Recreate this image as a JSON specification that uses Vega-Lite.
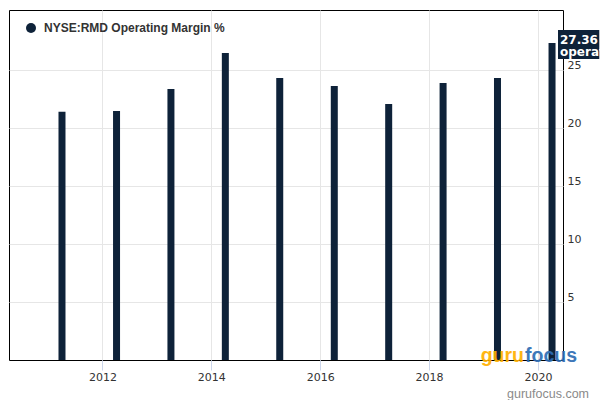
{
  "$schema": "https://vega.github.io/schema/vega-lite/v6.json",
  "width": 554,
  "height": 350,
  "autosize": "none",
  "padding": {"left": 9, "top": 10, "right": 37, "bottom": 40},
  "background": "white",
  "config": {
    "view": {"stroke": "#000000", "strokeWidth": 1},
    "font": "DejaVu Sans"
  },
  "title": {
    "text": "gurufocus.com",
    "orient": "bottom",
    "anchor": "end",
    "frame": "group",
    "color": "#8a8a8a",
    "fontSize": 12.5,
    "fontWeight": "normal",
    "font": "Liberation Sans",
    "baseline": "alphabetic",
    "offset": 16,
    "dx": 26
  },
  "datasets": {
    "bars": [
      {"date": "2011-04-05", "margin": 21.41, "series": "NYSE:RMD Operating Margin %"},
      {"date": "2012-04-05", "margin": 21.49, "series": "NYSE:RMD Operating Margin %"},
      {"date": "2013-04-05", "margin": 23.39, "series": "NYSE:RMD Operating Margin %"},
      {"date": "2014-04-05", "margin": 26.49, "series": "NYSE:RMD Operating Margin %"},
      {"date": "2015-04-05", "margin": 24.34, "series": "NYSE:RMD Operating Margin %"},
      {"date": "2016-04-05", "margin": 23.65, "series": "NYSE:RMD Operating Margin %"},
      {"date": "2017-04-05", "margin": 22.09, "series": "NYSE:RMD Operating Margin %"},
      {"date": "2018-04-05", "margin": 23.91, "series": "NYSE:RMD Operating Margin %"},
      {"date": "2019-04-05", "margin": 24.34, "series": "NYSE:RMD Operating Margin %"},
      {"date": "2020-04-05", "margin": 27.36, "series": "NYSE:RMD Operating Margin %"}
    ],
    "flag": [
      {"start": "2020-05-15", "end": "2021-02-16", "top": 28.47, "bottom": 25.97, "value": 27.36, "label": "27.36\noperating margin"}
    ],
    "logo": [
      {"date": "2019-09-30", "pos": -0.2, "guru": "guru", "focus": "focus"}
    ]
  },
  "layer": [
    {
      "data": {"name": "bars"},
      "mark": {"type": "bar", "width": 7},
      "encoding": {
        "x": {
          "field": "date",
          "type": "temporal",
          "scale": {"type": "utc", "domain": [{"year": 2010, "month": 5, "date": 18, "utc": true}, {"year": 2020, "month": 5, "date": 15, "utc": true}]},
          "axis": {
            "title": null,
            "orient": "bottom",
            "values": [{"year": 2012, "utc": true}, {"year": 2014, "utc": true}, {"year": 2016, "utc": true}, {"year": 2018, "utc": true}, {"year": 2020, "utc": true}],
            "format": "%Y",
            "formatType": "utc",
            "domain": false,
            "ticks": true,
            "tickColor": "#ccd6eb",
            "tickSize": 10,
            "grid": true,
            "gridColor": "#e6e6e6",
            "labelFontSize": 11,
            "labelColor": "#333333",
            "labelPadding": 1,
            "labelFont": "DejaVu Sans"
          }
        },
        "y": {
          "field": "margin",
          "type": "quantitative",
          "scale": {"domain": [0, 30.2], "nice": false, "zero": false},
          "axis": {
            "title": null,
            "orient": "right",
            "values": [5, 10, 15, 20, 25],
            "domain": false,
            "ticks": false,
            "grid": true,
            "gridColor": "#e6e6e6",
            "labelAlign": "left",
            "labelBaseline": "alphabetic",
            "labelOffset": -2,
            "labelPadding": 4,
            "labelFontSize": 11,
            "labelColor": "#333333",
            "labelFont": "DejaVu Sans"
          }
        },
        "color": {
          "field": "series",
          "type": "nominal",
          "scale": {"range": ["#0e2239"]},
          "legend": {
            "title": null,
            "orient": "none",
            "legendX": 16,
            "legendY": 12,
            "padding": 0,
            "symbolType": "circle",
            "symbolSize": 100,
            "symbolStrokeWidth": 0,
            "labelFontSize": 12,
            "labelFontWeight": "bold",
            "labelColor": "#333333",
            "labelFont": "Liberation Sans",
            "labelOffset": 7,
            "labelLimit": 0
          }
        }
      }
    },
    {
      "data": {"name": "logo"},
      "mark": {"type": "text", "align": "right", "baseline": "alphabetic", "font": "Liberation Sans", "fontSize": 19.5, "fontWeight": "bold", "color": "#ffb000", "opacity": 0.92},
      "encoding": {
        "x": {"field": "date", "type": "temporal"},
        "y": {"field": "pos", "type": "quantitative"},
        "text": {"field": "guru"}
      }
    },
    {
      "data": {"name": "logo"},
      "mark": {"type": "text", "align": "left", "baseline": "alphabetic", "dx": 1, "font": "Liberation Sans", "fontSize": 19.5, "fontWeight": "bold", "color": "#2e6db4", "opacity": 0.92},
      "encoding": {
        "x": {"field": "date", "type": "temporal"},
        "y": {"field": "pos", "type": "quantitative"},
        "text": {"field": "focus"}
      }
    },
    {
      "data": {"name": "flag"},
      "mark": {"type": "rect", "color": "#0e2239"},
      "encoding": {
        "x": {"field": "start", "type": "temporal"},
        "x2": {"field": "end"},
        "y": {"field": "top", "type": "quantitative"},
        "y2": {"field": "bottom"}
      }
    },
    {
      "data": {"name": "flag"},
      "mark": {"type": "text", "align": "left", "baseline": "alphabetic", "dx": 2, "dy": 1, "lineBreak": "\n", "lineHeight": 12, "color": "#ffffff", "fontWeight": "bold", "fontSize": 12, "font": "DejaVu Sans"},
      "encoding": {
        "x": {"field": "start", "type": "temporal"},
        "y": {"field": "value", "type": "quantitative"},
        "text": {"field": "label"}
      }
    }
  ]
}
